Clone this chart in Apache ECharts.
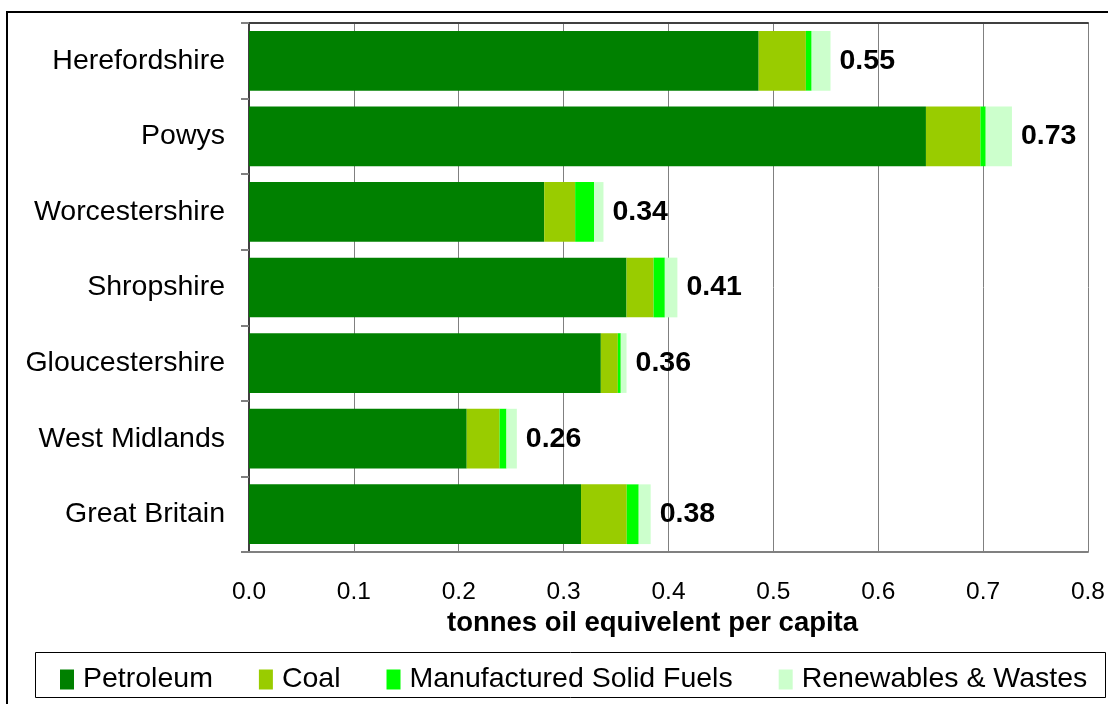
<!DOCTYPE html>
<html>
<head>
<meta charset="utf-8">
<script src="https://cdn.jsdelivr.net/npm/echarts@6/dist/echarts.min.js"></script>
<style>
  html, body { margin: 0; padding: 0; background: #fff; }
  #chart { width: 1108px; height: 704px; }
</style>
</head>
<body>
<div id="chart"></div>
<script>
// Per-capita consumption by fuel, tonnes oil equivalent
const regions = ['Herefordshire', 'Powys', 'Worcestershire', 'Shropshire', 'Gloucestershire', 'West Midlands', 'Great Britain'];
const petroleum     = [0.486, 0.6455, 0.2815, 0.360, 0.3355, 0.2076, 0.3166];
const coal          = [0.045, 0.052, 0.0295, 0.0258, 0.0162, 0.0313, 0.0436];
const solidFuels    = [0.0055, 0.005, 0.018, 0.0107, 0.0028, 0.0066, 0.0114];
const renewables    = [0.018, 0.025, 0.009, 0.012, 0.0055, 0.0099, 0.0114];
const xTicks = [0, 0.1, 0.2, 0.3, 0.4, 0.5, 0.6, 0.7, 0.8];

const totals = regions.map((_, i) => petroleum[i] + coal[i] + solidFuels[i] + renewables[i]);

const FONT = '"Liberation Sans", Arial, sans-serif';
const chart = echarts.init(document.getElementById('chart'));

function stackSeries(name, data, color, withTotal) {
  const s = {
    name, type: 'bar', stack: 'fuel', data,
    barCategoryGap: '21%',
    itemStyle: { color },
    emphasis: { disabled: true },
    animation: false
  };
  if (withTotal) {
    // total of the stack, written just past the bar end
    s.label = {
      show: true, position: 'right', distance: 9,
      fontFamily: FONT, fontSize: 28.5, fontWeight: 'bold', color: '#000',
      formatter: p => totals[p.dataIndex].toFixed(2)
    };
  }
  return s;
}

chart.setOption({
  animation: false,
  backgroundColor: '#fff',
  grid: { left: 249, right: 13, top: 23, bottom: 152, containLabel: false },
  legend: {
    left: 60, top: 665, padding: 0,
    itemWidth: 14, itemHeight: 20, itemGap: 46,
    icon: 'rect',
    textStyle: { fontFamily: FONT, fontSize: 28.5, color: '#000', padding: [0, 0, 0, 4] },
    data: ['Petroleum', 'Coal', 'Manufactured Solid Fuels', 'Renewables & Wastes']
  },
  xAxis: [{
    type: 'value', min: xTicks[0], max: xTicks[xTicks.length - 1], interval: 0.1,
    axisLine: { show: true, lineStyle: { color: '#808080', width: 2 } },
    axisTick: { show: false },
    axisLabel: { fontFamily: FONT, fontSize: 24.5, color: '#000', margin: 28,
                 formatter: v => v.toFixed(1) },
    splitLine: { show: true, lineStyle: { color: '#808080', width: 1 } }
  }, {
    type: 'value', position: 'top', min: 0, max: 0.8, interval: 0.1,
    axisLine: { show: true, lineStyle: { color: '#404040', width: 2 } },
    axisTick: { show: false }, axisLabel: { show: false }, splitLine: { show: false }
  }],
  yAxis: {
    type: 'category', data: regions, inverse: true,
    axisLine: { show: true, lineStyle: { color: '#404040', width: 2 } },
    axisTick: { show: true, length: 8, lineStyle: { color: '#808080', width: 2 } },
    axisLabel: { fontFamily: FONT, fontSize: 28.5, color: '#000', margin: 24 }
  },
  series: [
    stackSeries('Petroleum', petroleum, '#008000'),
    stackSeries('Coal', coal, '#99CC00'),
    stackSeries('Manufactured Solid Fuels', solidFuels, '#00FF00'),
    stackSeries('Renewables & Wastes', renewables, '#CCFFCC', true)
  ],
  graphic: [
    { type: 'rect', shape: { x: 7, y: 12, width: 1120, height: 720 },
      style: { fill: null, stroke: '#000', lineWidth: 2 }, silent: true },
    { type: 'rect', shape: { x: 35.5, y: 652.5, width: 1070, height: 45 },
      style: { fill: null, stroke: '#000', lineWidth: 1 }, silent: true },
    { type: 'text', left: 447, top: 609,
      style: { text: 'tonnes oil equivelent per capita', fontFamily: FONT, fontSize: 27.5,
               fontWeight: 'bold', fill: '#000' } }
  ]
});
</script>
</body>
</html>
